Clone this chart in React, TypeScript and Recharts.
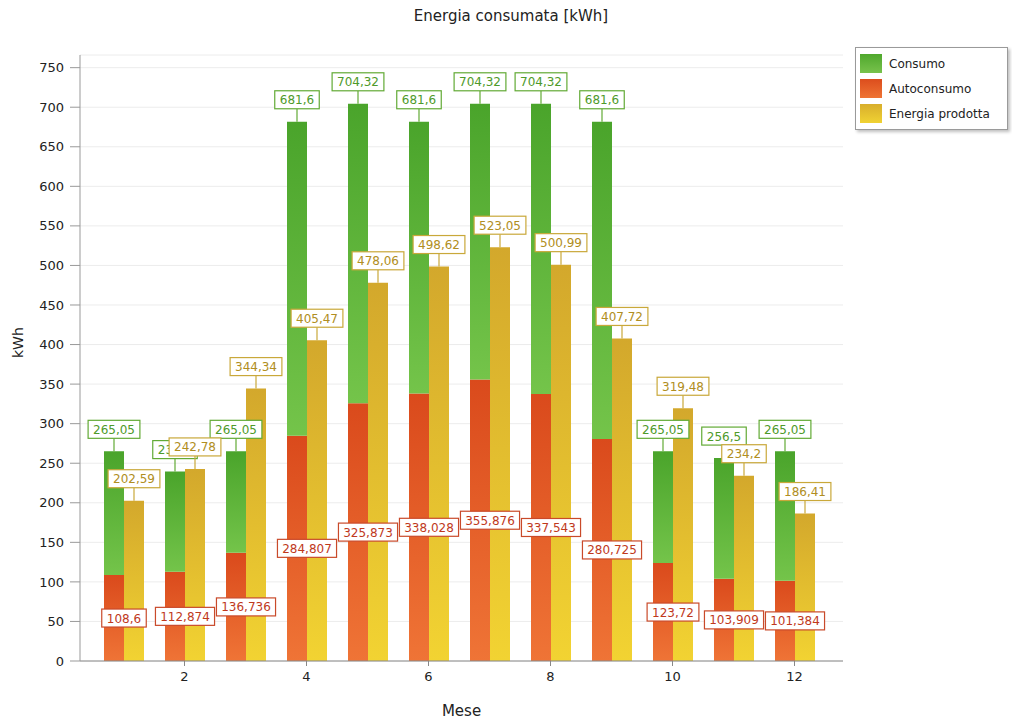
import { BarChart, Bar, XAxis, YAxis, CartesianGrid } from "recharts";

const months = [1, 2, 3, 4, 5, 6, 7, 8, 9, 10, 11, 12];
const consumo = [265.05, 239.4, 265.05, 681.6, 704.32, 681.6, 704.32, 704.32, 681.6, 265.05, 256.5, 265.05];
const autoconsumo = [108.6, 112.874, 136.736, 284.807, 325.873, 338.028, 355.876, 337.543, 280.725, 123.72, 103.909, 101.384];
const prodotta = [202.59, 242.78, 344.34, 405.47, 478.06, 498.62, 523.05, 500.99, 407.72, 319.48, 234.2, 186.41];
const yTicks = [0, 50, 100, 150, 200, 250, 300, 350, 400, 450, 500, 550, 600, 650, 700, 750];
const xTicks = [2, 4, 6, 8, 10, 12];
const seriesNames = ["Consumo", "Autoconsumo", "Energia prodotta"];

// green is drawn as the part of consumo above autoconsumo, stacked on red
const data = months.map((m, i) => ({
    mese: m,
    autoconsumo: autoconsumo[i],
    resto: consumo[i] - autoconsumo[i],
    prodotta: prodotta[i],
}));

const FONT = "'DejaVu Sans', Verdana, sans-serif";
const fmt = (v: number) => String(v).replace(".", ",");

function boxLabel(text: string, cx: number, cy: number, stroke: string, color: string) {
    const w = text.length * 7.3 + 8;
    return (
        <g>
            <rect x={cx - w / 2} y={cy - 9} width={w} height={18} fill="#fff" stroke={stroke} strokeWidth={1.2} />
            <text x={cx} y={cy + 4.5} textAnchor="middle" fontSize={12} fontFamily={FONT} fill={color}>
                {text}
            </text>
        </g>
    );
}

function calloutAbove(text: string, cx: number, y: number, stroke: string, color: string) {
    const boxBottom = y - 13;
    return (
        <g>
            <line x1={cx} y1={y} x2={cx} y2={boxBottom} stroke={stroke} strokeWidth={1.2} />
            {boxLabel(text, cx, boxBottom - 9, stroke, color)}
        </g>
    );
}

const greenLabel = (props: any) => {
    const { x, y, width, index } = props;
    return calloutAbove(fmt(consumo[index]), x + width / 2, y, "#62aa35", "#4e9a2a");
};

// yellow bar label also draws the autoconsumo box, so it sits on top of both bars
const yellowLabel = (props: any) => {
    const { x, y, width, height, index } = props;
    const bottom = y + height;
    const pxPerUnit = height / prodotta[index];
    const redMid = bottom - (autoconsumo[index] / 2) * pxPerUnit;
    return (
        <g>
            {boxLabel(fmt(autoconsumo[index]), x, redMid, "#c94a2a", "#c0391c")}
            {calloutAbove(fmt(prodotta[index]), x + width / 2, y, "#c9a83a", "#b08e22")}
        </g>
    );
};

const legendFills = ["linear-gradient(#4fa82d,#78c24c)", "linear-gradient(#dc4d1d,#ef7434)", "linear-gradient(#d8ae2c,#f0d233)"];

const LegendBox = () => (
    <div
        style={{
            position: "absolute",
            left: 855,
            top: 47,
            border: "1px solid #9a9a9a",
            boxShadow: "2px 2px 3px rgba(0,0,0,0.25)",
            background: "#fff",
            padding: "3px 4px",
            width: 143,
            fontFamily: FONT,
            fontSize: 12,
            color: "#222",
        }}
    >
        {seriesNames.map((name, i) => (
            <div key={name} style={{ display: "flex", alignItems: "center", height: 25 }}>
                <div style={{ width: 22, height: 19, background: legendFills[i], marginRight: 7 }} />
                <span>{name}</span>
            </div>
        ))}
    </div>
);

export default function App() {
    return (
        <div style={{ position: "absolute", left: 0, top: 0, width: 1012, height: 724, background: "#fff" }}>
            <div
                style={{
                    position: "absolute",
                    top: 7,
                    width: 1012,
                    left: 5,
                    textAlign: "center",
                    fontFamily: FONT,
                    fontSize: 15,
                    color: "#222",
                }}
            >
                Energia consumata [kWh]
            </div>
            <BarChart
                width={1012}
                height={724}
                data={data}
                margin={{ top: 55, right: 169, bottom: 33, left: 20 }}
                barSize={20}
                barGap={0}
            >
                <defs>
                    <linearGradient id="gG" x1="0" y1="0" x2="0" y2="1">
                        <stop offset="0%" stopColor="#4aa42b" />
                        <stop offset="100%" stopColor="#74c44a" />
                    </linearGradient>
                    <linearGradient id="gR" x1="0" y1="0" x2="0" y2="1">
                        <stop offset="0%" stopColor="#da4a1c" />
                        <stop offset="100%" stopColor="#ef7436" />
                    </linearGradient>
                    <linearGradient id="gY" x1="0" y1="0" x2="0" y2="1">
                        <stop offset="0%" stopColor="#d3a82c" />
                        <stop offset="100%" stopColor="#f2d332" />
                    </linearGradient>
                </defs>
                <CartesianGrid stroke="#ececec" vertical={false} />
                <XAxis
                    dataKey="mese"
                    type="category"
                    ticks={xTicks}
                    interval={0}
                    padding={{ left: 13, right: 18 }}
                    height={30}
                    stroke="#888"
                    tickSize={5}
                    tickMargin={6}
                    tick={{ fontSize: 13, fontFamily: FONT, fill: "#222" }}
                    label={{ value: "Mese", position: "insideBottom", offset: -25, fontSize: 15, fontFamily: FONT, fill: "#222" }}
                />
                <YAxis
                    domain={[0, 766]}
                    ticks={yTicks}
                    allowDataOverflow
                    width={60}
                    stroke="#999"
                    tickSize={10}
                    tickMargin={6}
                    tick={{ fontSize: 13, fontFamily: FONT, fill: "#222" }}
                    label={{ value: "kWh", angle: -90, position: "insideLeft", offset: -2, fontSize: 14, fontFamily: FONT, fill: "#222" }}
                />
                <Bar dataKey="autoconsumo" name="Autoconsumo" stackId="c" fill="url(#gR)" isAnimationActive={false} />
                <Bar
                    dataKey="resto"
                    name="Consumo"
                    stackId="c"
                    fill="url(#gG)"
                    isAnimationActive={false}
                    label={greenLabel}
                />
                <Bar
                    dataKey="prodotta"
                    name="Energia prodotta"
                    fill="url(#gY)"
                    isAnimationActive={false}
                    label={yellowLabel}
                />
            </BarChart>
            <LegendBox />
        </div>
    );
}
